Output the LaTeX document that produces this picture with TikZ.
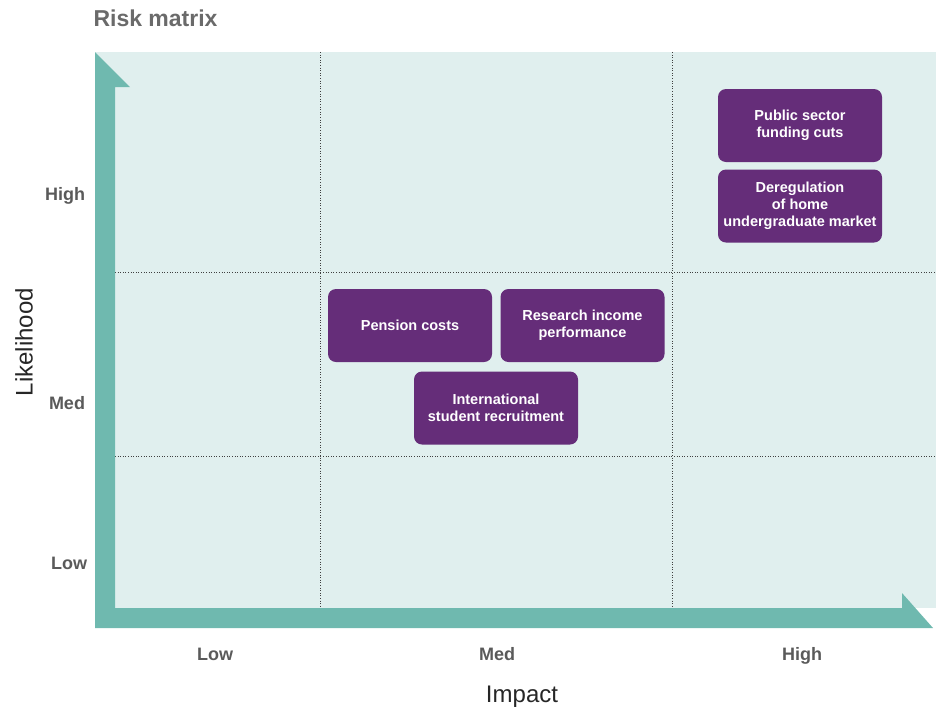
\documentclass[tikz,border=0pt]{standalone}
\usepackage{fontspec}
\setmainfont{Liberation Sans}
\definecolor{panel}{HTML}{E0EFEE}
\definecolor{teal}{HTML}{6FB9AF}
\definecolor{purp}{HTML}{652D79}
\definecolor{lab}{HTML}{5A5A5A}
\definecolor{titlec}{HTML}{6A6A6A}
\tikzset{
  riskbox/.style={draw=none, fill=purp, rounded corners=8pt, minimum width=164pt, minimum height=73pt,
    text=white, font=\fontsize{14.5}{17}\selectfont\bfseries, align=center, inner sep=0pt},
  grid/.style={draw=black!75, line width=0.6pt, dotted},
  lvl/.style={text=lab, font=\fontsize{18}{20}\selectfont\bfseries, text height=13pt, text depth=4pt, inner sep=0pt},
  axlab/.style={text=black!85, font=\fontsize{24}{26}\selectfont}
}
\begin{document}
\begin{tikzpicture}[x=1pt,y=-1pt]
\useasboundingbox (0,0) rectangle (936,713);
% panel
\fill[panel] (95,52) rectangle (936,608);
% grid
\draw[grid] (320,52) -- (320,608);
\draw[grid] (672,52) -- (672,608);
\draw[grid] (115,272) -- (936,272);
\draw[grid] (115,456) -- (936,456);
% axes arrows
\fill[teal] (95,52) -- (130,87) -- (115,87) -- (115,608) -- (902,608) -- (902,593) -- (933,628) -- (95,628) -- cycle;
% title
\node[anchor=west, text=titlec, font=\fontsize{23}{26}\selectfont\bfseries] (title) at (90,18) {Risk matrix};
% likelihood labels
\node[lvl] (lh) at (65,196) {High};
\node[lvl] (lm) at (67,405) {Med};
\node[lvl] (ll) at (69,565) {Low};
% impact labels
\node[lvl] (il) at (215,656) {Low};
\node[lvl] (im) at (497,656) {Med};
\node[lvl] (ih) at (802,656) {High};
% axis titles
\node[axlab, rotate=90] (ylab) at (24,342) {Likelihood};
\node[axlab] (xlab) at (522,697) {Impact};
% boxes
\node[riskbox] (pub) at (800,125.5) {Public sector\\funding cuts};
\node[riskbox] (dereg) at (800,206) {Deregulation\\of home\\undergraduate market};
\node[riskbox] (pens) at (410,325.5) {Pension costs};
\node[riskbox] (res) at (582.5,325.5) {Research income\\performance};
\node[riskbox] (intl) at (496,408) {International\\student recruitment};
\end{tikzpicture}
\end{document}
